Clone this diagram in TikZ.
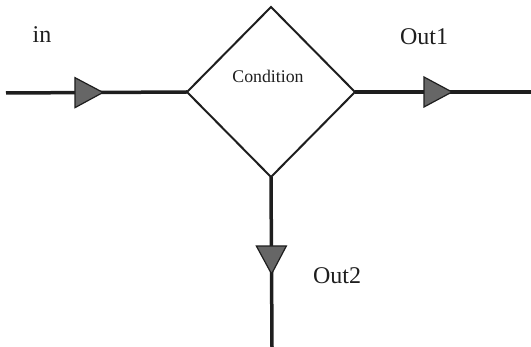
\documentclass[tikz,border=0pt]{standalone}
\usepackage{fontspec}
\setmainfont{Liberation Serif}
\usetikzlibrary{shapes.geometric,decorations.markings}
\definecolor{ink}{HTML}{1E1E1E}
\definecolor{tri}{HTML}{666666}
\tikzset{
  flow/.style={draw=ink, line width=3.5pt,
    postaction={decorate},
    decoration={markings, mark=at position 97pt with {
      \filldraw[fill=tri, draw=ink, line width=1.2pt, line join=miter]
        (-28pt,-15pt) -- (0pt,0pt) -- (-28pt,15pt) -- cycle;}}},
  decision/.style={diamond, draw=ink, line width=2pt, minimum width=168pt,
    minimum height=170pt, inner sep=0pt, outer sep=0pt},
  biglabel/.style={font=\fontsize{24}{28}\selectfont, text=ink, anchor=base, inner sep=0pt},
  smalllabel/.style={font=\fontsize{17.8}{20}\selectfont, text=ink, anchor=base, inner sep=0pt}
}
\begin{document}
\begin{tikzpicture}[x=1pt, y=-1pt]
\useasboundingbox (0,0) rectangle (531,347);
\node[decision] (cond) at (271,92) {};
\node[smalllabel] (condtext) at (268,83) {Condition};
\coordinate (inStart) at (6,93);
\coordinate (out1End) at (531,92);
\coordinate (out2End) at (272,347);
\draw[flow] (inStart) -- (cond.west);
\draw[flow] (cond.east) -- (out1End);
\draw[flow] (cond.south) -- (out2End);
\node[biglabel] (inlabel) at (42,43) {in};
\node[biglabel] (out1label) at (424,45) {Out1};
\node[biglabel] (out2label) at (337,284) {Out2};
\end{tikzpicture}
\end{document}
